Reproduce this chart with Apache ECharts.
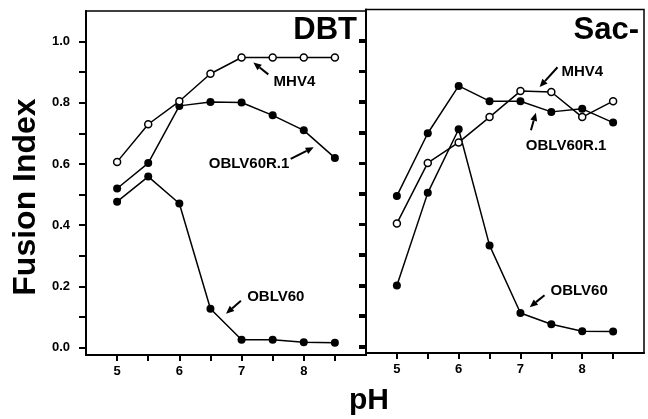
<!DOCTYPE html>
<html>
<head>
<meta charset="utf-8">
<script src="https://cdn.jsdelivr.net/npm/echarts@6/dist/echarts.min.js"></script>
<style>
  html, body { margin: 0; padding: 0; background: #fff; }
  #chart { width: 648px; height: 419px; }
</style>
</head>
<body>
<div id="chart"></div>
<script>
/* ---------------- data ---------------- */
const phValues = [5, 5.5, 6, 6.5, 7, 7.5, 8, 8.5];
const xTickValues = [5, 5.5, 6, 6.5, 7, 7.5, 8, 8.5];
const xLabelValues = [5, 6, 7, 8];
const yTickValues = [0, 0.1, 0.2, 0.3, 0.4, 0.5, 0.6, 0.7, 0.8, 0.9, 1.0];
const yLabelValues = [0, 0.2, 0.4, 0.6, 0.8, 1.0];
const panelTitles = ['DBT', 'Sac-'];

// DBT panel
const dbtMHV4 = [0.607, 0.73, 0.805, 0.895, 0.948, 0.948, 0.948, 0.948];
const dbtOBLV60R1 = [0.52, 0.603, 0.79, 0.803, 0.801, 0.759, 0.71, 0.62];
const dbtOBLV60 = [0.477, 0.559, 0.471, 0.127, 0.026, 0.026, 0.018, 0.016];
// Sac- panel
const sacMHV4 = [0.40, 0.598, 0.665, 0.748, 0.833, 0.83, 0.748, 0.80];
const sacOBLV60R1 = [0.49, 0.695, 0.85, 0.80, 0.80, 0.765, 0.775, 0.73];
const sacOBLV60 = [0.197, 0.50, 0.708, 0.328, 0.107, 0.07, 0.047, 0.046];

// labels with arrows, in data units of each panel: [text position], arrow tail -> head
const notes = [
  { panel: 0, text: 'MHV4', at: [7.85, 0.868], from: [7.43, 0.893], to: [7.19, 0.932] },
  { panel: 0, text: 'OBLV60R.1', at: [7.12, 0.602], from: [7.79, 0.617], to: [8.16, 0.655] },
  { panel: 0, text: 'OBLV60', at: [7.55, 0.167], from: [6.99, 0.153], to: [6.75, 0.111] },
  { panel: 1, text: 'MHV4', at: [8.0, 0.895], from: [7.6, 0.911], to: [7.31, 0.846] },
  { panel: 1, text: 'OBLV60R.1', at: [7.74, 0.653], from: [7.17, 0.705], to: [7.25, 0.762] },
  { panel: 1, text: 'OBLV60', at: [7.95, 0.179], from: [7.39, 0.165], to: [7.15, 0.126] }
];

/* ---------------- chart ---------------- */
const FONT = '"Liberation Sans", Arial, Helvetica, sans-serif';
const chart = echarts.init(document.getElementById('chart'), null, { renderer: 'canvas' });

function xAxisFor(i) {
  return {
    gridIndex: i, type: 'value', min: 4.5, max: 9, position: 'bottom',
    axisLine: { show: true, onZero: false, lineStyle: { color: '#000', width: 2 } },
    axisTick: { show: true, customValues: xTickValues, length: 6, lineStyle: { color: '#000', width: 2 } },
    axisLabel: {
      customValues: xLabelValues, color: '#000', fontSize: 13, fontWeight: 'bold',
      fontFamily: FONT, margin: 10
    },
    splitLine: { show: false }
  };
}
function yAxisFor(i, pos, inside, labels) {
  return {
    gridIndex: i, type: 'value', min: -0.024, max: 1.1, position: pos,
    axisLine: { show: true, onZero: false, lineStyle: { color: '#000', width: 2 } },
    axisTick: { show: true, inside: inside, customValues: yTickValues, length: 7, lineStyle: { color: '#000', width: 2 } },
    axisLabel: {
      show: labels, customValues: yLabelValues, color: '#000', fontSize: 13, fontWeight: 'bold',
      fontFamily: FONT, margin: 16, formatter: v => v.toFixed(1)
    },
    splitLine: { show: false }
  };
}
function seriesFor(i, vals, open) {
  return {
    type: 'line', xAxisIndex: i, yAxisIndex: i,
    data: phValues.map((x, k) => [x, vals[k]]),
    symbol: 'circle', symbolSize: open ? 7 : 8,
    lineStyle: { color: '#000', width: 1.5 },
    itemStyle: open ? { color: '#fff', borderColor: '#000', borderWidth: 1.5 } : { color: '#000' },
    z: open ? 3 : 2,
    silent: true
  };
}

chart.setOption({
  animation: false,
  backgroundColor: '#fff',
  grid: [
    { left: 86, top: 11, width: 280, height: 344, show: true, borderColor: '#000', borderWidth: 1.5 },
    { left: 366, top: 9.5, width: 278, height: 343.5, show: true, borderColor: '#000', borderWidth: 1.5 }
  ],
  xAxis: [xAxisFor(0), xAxisFor(1)],
  yAxis: [
    yAxisFor(0, 'left', false, true),
    yAxisFor(1, 'left', false, false),
    yAxisFor(0, 'right', true, false)   // inward ticks along the divider
  ],
  series: [
    seriesFor(0, dbtOBLV60, false),
    seriesFor(0, dbtOBLV60R1, false),
    seriesFor(0, dbtMHV4, true),
    seriesFor(1, sacOBLV60, false),
    seriesFor(1, sacOBLV60R1, false),
    seriesFor(1, sacMHV4, true)
  ]
});

/* ---------------- annotations ---------------- */
const graphics = [];
notes.forEach(n => {
  const p = chart.convertToPixel({ gridIndex: n.panel }, n.at);
  const a = chart.convertToPixel({ gridIndex: n.panel }, n.from);
  const b = chart.convertToPixel({ gridIndex: n.panel }, n.to);
  graphics.push({
    type: 'text', x: p[0], y: p[1],
    style: { text: n.text, font: 'bold 15px ' + FONT, fill: '#000', textAlign: 'center', textVerticalAlign: 'middle' }
  });
  const dx = b[0] - a[0], dy = b[1] - a[1];
  const len = Math.sqrt(dx * dx + dy * dy);
  const ux = dx / len, uy = dy / len;
  const hl = 8, hw = 3.5;
  const bx = b[0] - ux * hl, by = b[1] - uy * hl;
  graphics.push({
    type: 'line', shape: { x1: a[0], y1: a[1], x2: bx, y2: by },
    style: { stroke: '#000', lineWidth: 2 }
  });
  graphics.push({
    type: 'polygon',
    shape: { points: [[b[0], b[1]], [bx - uy * hw, by + ux * hw], [bx + uy * hw, by - ux * hw]] },
    style: { fill: '#000' }
  });
});

// panel titles, axis titles
graphics.push({
  type: 'text', x: 357, y: 30,
  style: { text: panelTitles[0], font: 'bold 31px ' + FONT, fill: '#000', textAlign: 'right', textVerticalAlign: 'middle' }
});
graphics.push({
  type: 'text', x: 639, y: 30,
  style: { text: panelTitles[1], font: 'bold 31px ' + FONT, fill: '#000', textAlign: 'right', textVerticalAlign: 'middle' }
});
graphics.push({
  type: 'text', x: 26, y: 197, rotation: Math.PI / 2,
  style: { text: 'Fusion Index', font: 'bold 32px ' + FONT, fill: '#000', textAlign: 'center', textVerticalAlign: 'middle' }
});
graphics.push({
  type: 'text', x: 369, y: 401,
  style: { text: 'pH', font: 'bold 30px ' + FONT, fill: '#000', textAlign: 'center', textVerticalAlign: 'middle' }
});

chart.setOption({ graphic: graphics });
window.onresize = function () { chart.resize(); };
</script>
</body>
</html>
